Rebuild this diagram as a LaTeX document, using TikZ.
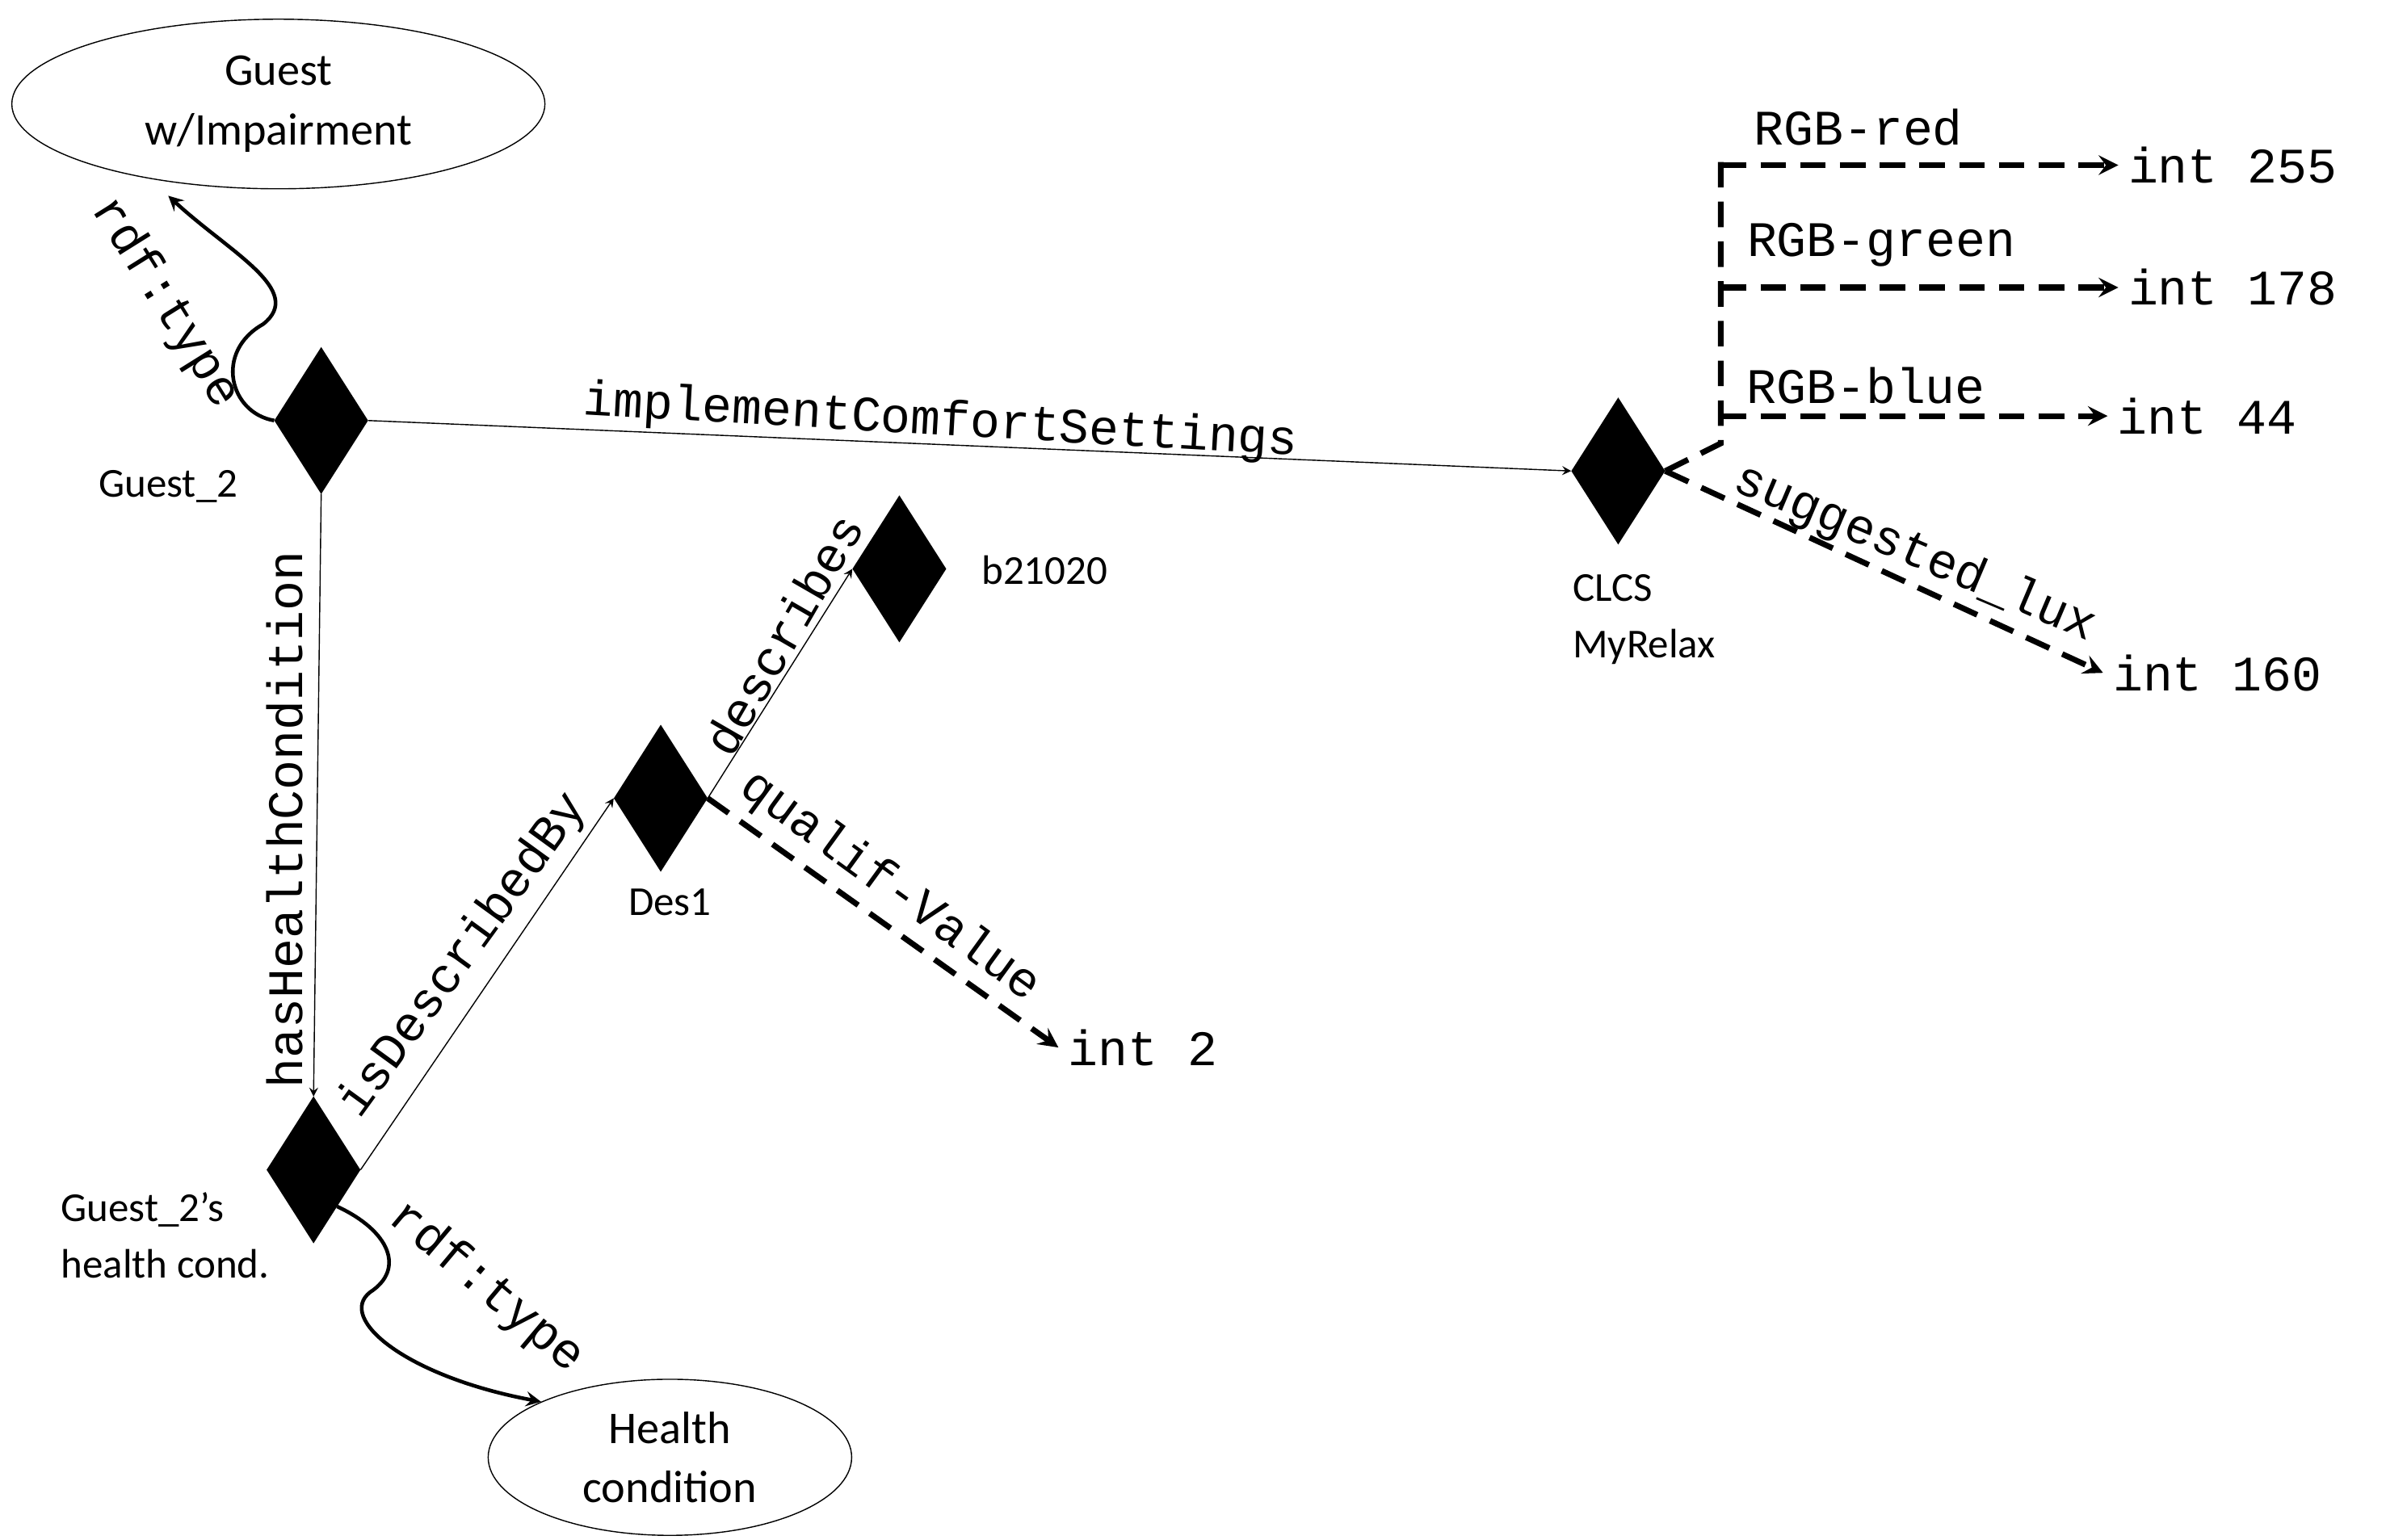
\documentclass[tikz,border=0pt]{standalone}
\usepackage{fontspec}
\setmainfont{Carlito}
\newfontfamily\monofont{Liberation Mono}
\usetikzlibrary{shapes.geometric,arrows,positioning}

\begin{document}
\begin{tikzpicture}[
    x=0.01894cm, y=-0.01894cm,
    inst/.style={diamond, fill=black, draw=black, inner sep=0pt, minimum width=1.15cm, minimum height=1.8cm},
    cls/.style={ellipse, draw, thin, align=center, font=\fontsize{16}{21}\selectfont},
    instlabel/.style={align=left, font=\fontsize{14.5}{20}\selectfont},
    prop/.style={font=\monofont\fontsize{17.5}{20}\selectfont, inner sep=1pt},
    lit/.style={font=\monofont\fontsize{17.5}{20}\selectfont, anchor=west},
    link/.style={->, thin, >=stealth},
    dlink/.style={->, line width=2pt, dash pattern=on 9pt off 5pt, >=stealth},
    wlink/.style={->, line width=1.3pt, >=stealth}
]
\useasboundingbox (0,0) rectangle (1560,1007);

% classes
\node[cls, minimum width=6.6cm, minimum height=2.1cm] (impair) at (182,68) {Guest\\w/Impairment};
\node[cls, minimum width=4.5cm, minimum height=1.9cm] (health) at (438,953) {Health\\condition};

% instances
\node[inst] (guest) at (210,275) {};
\node[inst] (cond) at (205,765) {};
\node[inst] (des) at (432,522) {};
\node[inst] (b21) at (588,372) {};
\node[inst] (clcs) at (1058,308) {};

\node[instlabel] at (110,318) {Guest\_2};
\node[instlabel] at (108,808) {Guest\_2’s\\health cond.};
\node[instlabel] at (438,590) {Des1};
\node[instlabel] at (683,373) {b21020};
\node[instlabel] at (1075,405) {CLCS\\MyRelax};

% literals
\node[lit] (red) at (1385,108) {int 255};
\node[lit] (green) at (1385,188) {int 178};
\node[lit] (blue) at (1378,272) {int 44};
\node[lit] (lux) at (1375,440) {int 160};
\node[lit] (qual) at (692,685) {int 2};
\coordinate (corner) at (1125,290);
\coordinate (tip) at (110,128);

% type links
\draw[wlink] (guest.west) .. controls (150,270) and (140,230) .. (172,212) .. controls (200,190) and (150,165) .. (tip);
\draw[wlink] (cond.south east) .. controls (255,805) and (265,830) .. (242,845) .. controls (220,862) and (265,900) .. (health.north west);
\node[prop, rotate=-58] at (108,198) {rdf:type};
\node[prop, rotate=-40] at (318,842) {rdf:type};

% object properties
\draw[link] (guest.east) -- (clcs.west);
\node[prop, rotate=-3.3] at (615,276) {implementComfortSettings};
\draw[link] (guest.south) -- (cond.north);
\node[prop, rotate=90] at (186,536) {hasHealthCondition};
\draw[link] (cond.east) -- (des.west);
\node[prop, rotate=54] at (303,625) {isDescribedBy};
\draw[link] (des.east) -- (b21.west);
\node[prop, rotate=60] at (512,415) {describes};

% data properties
\draw[dlink] (des.east) -- (qual.west);
\node[prop, rotate=-36] at (582,580) {qualif-Value};
\draw[dlink] (clcs.east) -- (lux.west);
\node[prop, rotate=-23] at (1252,362) {suggested\_lux};
\draw[line width=2pt, dash pattern=on 9pt off 5pt] (clcs.east) -- (corner) -- (1125,106);
\draw[dlink] (1125,108) -- (red.west);
\draw[dlink] (1125,188) -- (green.west);
\draw[dlink] (1125,272) -- (blue.west);
\node[prop] at (1215,83) {RGB-red};
\node[prop] at (1230,160) {RGB-green};
\node[prop] at (1220,252) {RGB-blue};
\end{tikzpicture}
\end{document}
